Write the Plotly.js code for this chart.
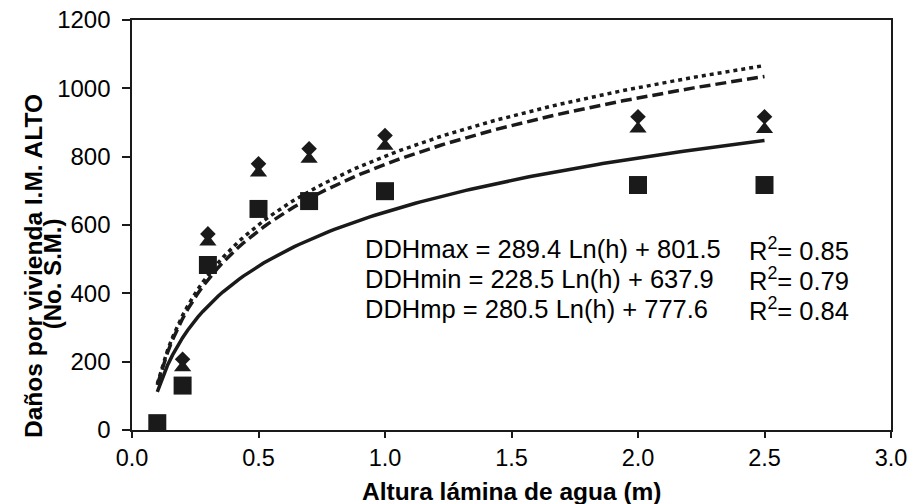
<!DOCTYPE html>
<html>
<head>
<meta charset="utf-8">
<script src="https://cdn.plot.ly/plotly-3.0.1.min.js"></script>
<style>html,body{margin:0;padding:0;background:#fff;}#chart{width:911px;height:504px;}</style>
</head>
<body>
<div id="chart"></div>
<script>
// Data
const heights = [0.1, 0.2, 0.3, 0.5, 0.7, 1.0, 2.0, 2.5];
const ddhMax = [18, 207, 574, 779, 823, 862, 917, 917];
const ddhMp  = [16, 183, 551, 753, 793, 831, 882, 880];
const ddhMin = [20, 130, 483, 647, 670, 699, 717, 717];

// Logarithmic trendline coefficients as printed on the chart: y = a*Ln(h) + b
const fitNames = ['DDHmax', 'DDHmin', 'DDHmp'];
const fitA = [289.4, 228.5, 280.5];
const fitB = [801.5, 637.9, 777.6];
const fitR2 = ['0.85', '0.79', '0.84'];
const fitRange = [0.1, 2.5];

const xTicks = [0, 0.5, 1.0, 1.5, 2.0, 2.5, 3.0];
const yTicks = [0, 200, 400, 600, 800, 1000, 1200];

const xTitle = 'Altura lámina de agua (m)';
const yTitleLines = ['Daños por vivienda I.M. ALTO', '(No. S.M.)'];

const FONT = 'Arial, "Liberation Sans", sans-serif';
const INK = '#1a1a1a';

function trend(i, dash) {
  const xs = [], ys = [];
  const n = 120;
  for (let k = 0; k <= n; k++) {
    const h = fitRange[0] + (fitRange[1] - fitRange[0]) * k / n;
    xs.push(h);
    ys.push(fitA[i] * Math.log(h) + fitB[i]);
  }
  return {x: xs, y: ys, mode: 'lines', type: 'scatter', hoverinfo: 'skip',
          line: {color: INK, width: 3.5, dash: dash}, showlegend: false};
}

const traces = [
  trend(1, 'solid'),
  trend(2, '11px,5px'),
  trend(0, '4px,4px'),
  {x: heights, y: ddhMax, mode: 'markers', type: 'scatter', showlegend: false,
   marker: {symbol: 'diamond', size: 12, color: INK}},
  {x: heights, y: ddhMp, mode: 'markers', type: 'scatter', showlegend: false,
   marker: {symbol: 'triangle-up', size: 15, color: INK}},
  {x: heights, y: ddhMin, mode: 'markers', type: 'scatter', showlegend: false,
   marker: {symbol: 'square', size: 18, color: INK}}
];

const eqY = [530, 442, 354];
const annotations = [];
fitNames.forEach((nm, i) => {
  annotations.push({x: 0.912, y: eqY[i], xref: 'x', yref: 'y', xanchor: 'left', yanchor: 'middle',
    showarrow: false, text: nm + ' = ' + fitA[i].toFixed(1) + ' Ln(h) + ' + fitB[i].toFixed(1),
    font: {family: FONT, size: 25.5, color: '#000'}});
  annotations.push({x: 2.43, y: eqY[i], xref: 'x', yref: 'y', xanchor: 'left', yanchor: 'middle',
    showarrow: false, text: 'R<sup>2</sup>= ' + fitR2[i],
    font: {family: FONT, size: 25.5, color: '#000'}});
});
annotations.push({xref: 'paper', yref: 'paper', x: 0.5, y: 0, yshift: -61, xanchor: 'center', yanchor: 'middle',
  showarrow: false, text: '<b>' + xTitle + '</b>', font: {family: FONT, size: 24.5, color: '#000'}});
annotations.push({xref: 'paper', yref: 'paper', x: (33 - 132) / 759, y: 0.40, xanchor: 'center', yanchor: 'middle',
  textangle: -90, showarrow: false, text: '<b>' + yTitleLines[0] + '</b>',
  font: {family: FONT, size: 24.5, color: '#000'}});
annotations.push({xref: 'paper', yref: 'paper', x: (52 - 132) / 759, y: 0.38, xanchor: 'center', yanchor: 'middle',
  textangle: -90, showarrow: false, text: '<b>' + yTitleLines[1] + '</b>',
  font: {family: FONT, size: 24, color: '#000'}});

const layout = {
  width: 911, height: 504,
  margin: {l: 132, r: 20, t: 20, b: 74, pad: 0},
  paper_bgcolor: '#fff', plot_bgcolor: '#fff',
  font: {family: FONT, color: '#000'},
  xaxis: {range: [0, 3], tickvals: xTicks, ticktext: xTicks.map(v => v.toFixed(1)),
    showgrid: false, zeroline: false, showline: true, mirror: true, linecolor: INK, linewidth: 2,
    ticks: 'outside', ticklen: 6, tickwidth: 2, tickcolor: INK,
    tickfont: {family: FONT, size: 23.5, color: '#000'}},
  yaxis: {range: [0, 1200], tickvals: yTicks, ticktext: yTicks.map(v => v + ' '),
    showgrid: false, zeroline: false, showline: true, mirror: true, linecolor: INK, linewidth: 2,
    ticks: 'outside', ticklen: 8, tickwidth: 2, tickcolor: INK,
    tickfont: {family: FONT, size: 24, color: '#000'}},
  annotations: annotations
};

Plotly.newPlot('chart', traces, layout, {displayModeBar: false, staticPlot: true});
</script>
</body>
</html>
